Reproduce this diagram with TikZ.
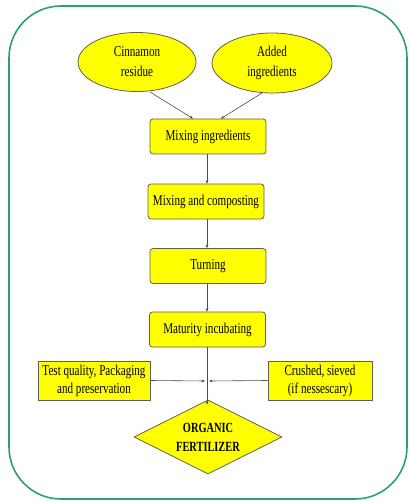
\documentclass[tikz,border=0pt]{standalone}
\usepackage{fontspec}
\setmainfont{Liberation Serif}[FakeStretch=0.74]
\usetikzlibrary{shapes.geometric,arrows.meta}
\definecolor{boxyellow}{RGB}{255,255,0}
\definecolor{framegreen}{RGB}{46,160,110}
\definecolor{edgegray}{RGB}{95,95,80}
\begin{document}
\begin{tikzpicture}[
    x=1pt, y=-1pt,
    every node/.style={font=\fontsize{15}{18}\selectfont, align=center, inner sep=0pt},
    source/.style={ellipse, draw=edgegray, fill=boxyellow, line width=0.8pt, minimum width=118pt, minimum height=59pt},
    stage/.style={rectangle, draw=edgegray, fill=boxyellow, line width=0.8pt, rounded corners=3pt, minimum width=116pt, minimum height=35pt},
    side/.style={rectangle, draw=edgegray, fill=boxyellow, line width=0.8pt, minimum height=39pt},
    product/.style={diamond, draw=edgegray, fill=boxyellow, line width=0.8pt, minimum width=148pt, minimum height=74pt, aspect=2, font=\fontsize{14}{17}\selectfont\bfseries},
    flow/.style={draw=black!70, line width=0.6pt, -{Stealth[length=3.5pt, width=3pt]}}
]
    % Rahmen
    \useasboundingbox (0,0) rectangle (409,502);
    \draw[framegreen, line width=1.6pt, rounded corners=52pt] (9,6) rectangle (407,499);

    % Ausgangsstoffe
    \node[source] (cinnamon) at (137,62) {Cinnamon\\[2pt]residue};
    \node[source, minimum width=120pt, minimum height=60pt] (added) at (272,63) {Added\\[2pt]ingredients};

    % Prozessschritte
    \node[stage] (mixing) at (208,136.5) {Mixing ingredients};
    \node[stage] (composting) at (206,201.5) {Mixing and composting};
    \node[stage] (turning) at (208,266) {Turning};
    \node[stage] (maturity) at (207.5,329.5) {Maturity incubating};

    % Nebenschritte
    \node[side, minimum width=112pt] (quality) at (94,380.5) {Test quality, Packaging\\and preservation};
    \node[side, minimum width=104pt] (crushed) at (320,380.5) {Crushed, sieved\\(if nessescary)};

    % Endprodukt
    \node[product] (fertilizer) at (208,437) {ORGANIC\\[2pt]FERTILIZER};

    % Verbindungen
    \coordinate (join) at (207,381);
    \draw[flow] (150,92) -- ([xshift=-15pt]mixing.north);
    \draw[flow] (262,93) -- ([xshift=13pt]mixing.north);
    \draw[flow] (mixing.south -| 207,0) -- (composting.north -| 207,0);
    \draw[flow] (composting.south -| 207,0) -- (turning.north -| 207,0);
    \draw[flow] (turning.south -| 207,0) -- (maturity.north -| 207,0);
    \draw[flow] (maturity.south -| join) -- ([yshift=-5pt]fertilizer.north -| join);
    \draw[flow] (quality.east) -- ([xshift=-2pt]join);
    \draw[flow] (crushed.west) -- ([xshift=2pt]join);
\end{tikzpicture}
\end{document}
